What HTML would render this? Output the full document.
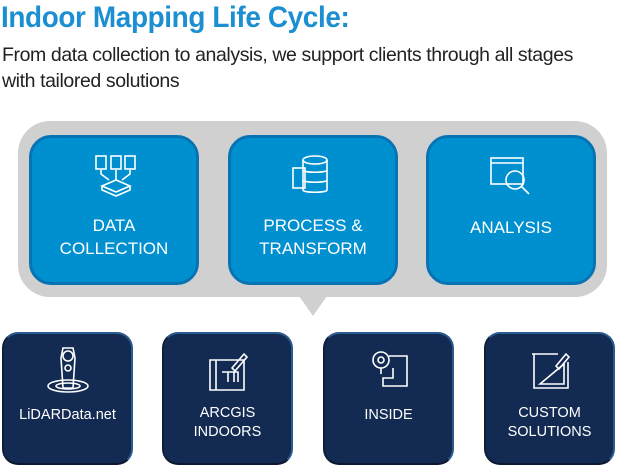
<!DOCTYPE html>
<html><head><style>
body{margin:0;width:617px;height:467px;background:#fff;font-family:"Liberation Sans",sans-serif;position:relative;overflow:hidden}
.t{position:absolute;left:1px;top:1px;font-size:30px;color:#1b8fd2;letter-spacing:-0.4px;font-weight:bold;transform:scaleX(0.93);transform-origin:left}
.s{position:absolute;left:2px;top:42px;font-size:19.5px;line-height:26px;color:#222;letter-spacing:-0.4px;white-space:nowrap}
.g{position:absolute;left:18px;top:121px;width:589px;height:176px;background:#d0d0d0;border-radius:32px}
.tri{position:absolute;left:299px;top:296px;width:0;height:0;border-left:14px solid transparent;border-right:14px solid transparent;border-top:20px solid #d0d0d0}
.b{position:absolute;top:135px;width:164px;height:144px;background:#0090d0;border:3px solid #0873b3;border-radius:22px;color:#fff;text-align:center}
.b .l{position:absolute;left:0;right:0;top:76px;font-size:17px;line-height:23px}
.d{position:absolute;top:332px;width:127px;height:129px;background:#132b52;border:2px solid #2a5a8e;border-left-color:#101e3a;border-bottom-color:#0c1830;border-radius:16px;color:#fff;text-align:center}
.d .l{position:absolute;left:0;right:0;font-size:14.5px;line-height:19px}
svg{position:absolute}
</style></head><body>
<div class="t">Indoor Mapping Life Cycle:</div>
<div class="s">From data collection to analysis, we support clients through all stages<br>with tailored solutions</div>
<div class="g"></div><div class="tri"></div>
<div class="b" style="left:29px"><svg style="left:62px;top:16px" width="44" height="44" fill="none" stroke="#fff" stroke-width="1.6"><rect x="2" y="2" width="10" height="13"/><rect x="17" y="2" width="10" height="13"/><rect x="31" y="2" width="10" height="13"/><path d="M7 16v4l8 6M22 16v10M36 16v4l-8 6M8 32l14-6 14 6-14 6zM8 32v4l14 6 14-6v-4"/></svg><div class="l">DATA<br>COLLECTION</div></div>
<div class="b" style="left:228px"><svg style="left:58px;top:16px" width="48" height="44" fill="none" stroke="#fff" stroke-width="1.6"><ellipse cx="26" cy="6" rx="12" ry="4"/><path d="M14 6v30c0 3 24 3 24 0V6M14 16c0 3 24 3 24 0M14 26c0 3 24 3 24 0"/><rect x="4" y="14" width="12" height="20"/></svg><div class="l">PROCESS &amp;<br>TRANSFORM</div></div>
<div class="b" style="left:426px"><svg style="left:60px;top:16px" width="46" height="44" fill="none" stroke="#fff" stroke-width="1.6"><rect x="2" y="4" width="32" height="26"/><path d="M2 9h32"/><circle cx="26" cy="26" r="9"/><path d="M32 32l8 8"/></svg><div class="l" style="top:78px">ANALYSIS</div></div>
<div class="d" style="left:2px"><svg style="left:42px;top:10px" width="44" height="50" fill="none" stroke="#fff" stroke-width="1.6"><path d="M17 4h10l2 10-2 30H17l-2-30z"/><circle cx="22" cy="12" r="5"/><circle cx="22" cy="24" r="3"/><ellipse cx="22" cy="42" rx="20" ry="6"/><ellipse cx="22" cy="42" rx="12" ry="3"/></svg><div class="l" style="top:72px">LiDARData.net</div></div>
<div class="d" style="left:162px"><svg style="left:44px;top:18px" width="42" height="40" fill="none" stroke="#fff" stroke-width="1.6"><path d="M2 8h34v30H2zM8 8v30M14 20h16v10M20 20v10M26 20v10"/><path d="M24 16l12-14 3 3-12 14z"/></svg><div class="l" style="top:70px">ARCGIS<br>INDOORS</div></div>
<div class="d" style="left:323px"><svg style="left:44px;top:14px" width="42" height="44" fill="none" stroke="#fff" stroke-width="1.6"><circle cx="12" cy="12" r="8"/><circle cx="12" cy="12" r="3"/><path d="M12 20v6M20 8h18v30H14v-8h10v-10"/></svg><div class="l" style="top:72px">INSIDE</div></div>
<div class="d" style="left:484px"><svg style="left:42px;top:14px" width="44" height="44" fill="none" stroke="#fff" stroke-width="1.6"><path d="M4 6h26M6 6v34h34V14M12 36l24-20v20z"/><path d="M28 18l10-12 3 3-10 12z"/></svg><div class="l" style="top:70px">CUSTOM<br>SOLUTIONS</div></div>
</body></html>
